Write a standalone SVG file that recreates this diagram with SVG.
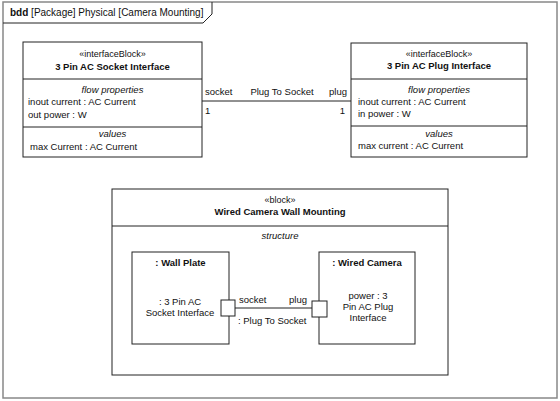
<svg xmlns="http://www.w3.org/2000/svg" width="560" height="401" viewBox="0 0 560 401">
<style>
text{font-family:"Liberation Sans",Arial,sans-serif;font-size:9.5px;fill:#111}
.b{font-weight:bold}
.i{font-style:italic}
.c{text-anchor:middle}
.e{text-anchor:end}
.box{fill:#fff;stroke:#222;stroke-width:1}
.ln{stroke:#222;stroke-width:1;fill:none}
.frame{fill:#fff;stroke:#888;stroke-width:1.5}
</style>
<rect width="560" height="401" fill="#fff"/>
<g id="frame">
<rect class="frame" x="3" y="2" width="554" height="396"/>
<path class="ln" d="M3 23 H203 L212 14 V2" stroke="#444"/>
<text x="10" y="16" style="font-size:10px"><tspan class="b">bdd</tspan> [Package] Physical [Camera Mounting]</text>
</g>
<g id="socket-interface">
<rect class="box" x="23" y="42" width="179" height="115"/>
<line class="ln" x1="23" y1="79" x2="202" y2="79"/>
<line class="ln" x1="23" y1="127" x2="202" y2="127"/>
<text class="c" x="112.5" y="57" style="font-size:9px">«interfaceBlock»</text>
<text class="c b" x="112.5" y="70">3 Pin AC Socket Interface</text>
<text class="c i" x="112.5" y="93">flow properties</text>
<text x="28" y="105">inout current : AC Current</text>
<text x="28" y="118">out power : W</text>
<text class="c i" x="112.5" y="137">values</text>
<text x="30" y="150">max Current : AC Current</text>
</g>
<g id="plug-interface">
<rect class="box" x="351" y="43" width="176" height="114"/>
<line class="ln" x1="351" y1="79" x2="527" y2="79"/>
<line class="ln" x1="351" y1="126" x2="527" y2="126"/>
<text class="c" x="439" y="57" style="font-size:9px">«interfaceBlock»</text>
<text class="c b" x="439" y="69">3 Pin AC Plug Interface</text>
<text class="c i" x="439" y="93">flow properties</text>
<text x="358" y="105">inout current : AC Current</text>
<text x="358" y="117">in power : W</text>
<text class="c i" x="439" y="137">values</text>
<text x="358" y="149">max current : AC Current</text>
</g>
<g id="wired-camera-wall-mounting">
<rect class="box" x="112" y="189" width="336" height="186"/>
<line class="ln" x1="112" y1="226" x2="448" y2="226"/>
<text class="c" x="280" y="203" style="font-size:9px">«block»</text>
<text class="c b" x="280" y="215">Wired Camera Wall Mounting</text>
<text class="c i" x="280" y="239">structure</text>
</g>
<g id="wall-plate">
<rect class="box" x="132" y="252" width="97" height="92"/>
<text class="c b" x="180.5" y="266">: Wall Plate</text>
<text class="c" x="180" y="305">: 3 Pin AC</text>
<text class="c" x="180" y="316">Socket Interface</text>
</g>
<g id="wired-camera">
<rect class="box" x="319" y="252" width="96" height="92"/>
<text class="c b" x="367" y="266">: Wired Camera</text>
<text class="c" x="368" y="299">power : 3</text>
<text class="c" x="368" y="310">Pin AC Plug</text>
<text class="c" x="368" y="321">Interface</text>
</g>
<g id="ports">
<rect class="box" x="221" y="300" width="14" height="16"/>
<rect class="box" x="312" y="301" width="15" height="16"/>
</g>
<g id="connectors">
<line class="ln" x1="202" y1="101" x2="351" y2="101"/>
<text x="205" y="95">socket</text>
<text class="c" x="282" y="95">Plug To Socket</text>
<text class="e" x="347" y="95">plug</text>
<text x="205" y="114">1</text>
<text class="e" x="345" y="114">1</text>
<line class="ln" x1="235" y1="308" x2="312" y2="308"/>
<text x="239" y="303">socket</text>
<text class="e" x="307" y="303">plug</text>
<text x="238" y="324">: Plug To Socket</text>
</g>
</svg>
